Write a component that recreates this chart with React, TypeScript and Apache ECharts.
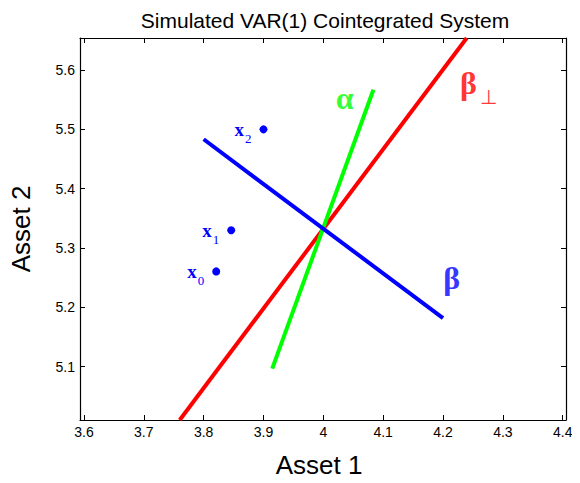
import React, { useEffect, useRef } from "react";
import * as echarts from "echarts";

const xTicks = [3.6, 3.7, 3.8, 3.9, 4.0, 4.1, 4.2, 4.3, 4.4];
const yTicks = [5.1, 5.2, 5.3, 5.4, 5.5, 5.6];
const xRange = [3.5934, 4.4055];
const yRange = [5.01, 5.654];

const betaPerpLine = [[3.76, 5.01], [4.2396, 5.654]];
const alphaLine = [[3.9146, 5.0967], [4.0837, 5.5667]];
const betaLine = [[3.8, 5.4833], [4.2, 5.1817]];

const statePoints = [[3.821, 5.2605], [3.846, 5.33], [3.9, 5.5]];
const stateNames = ["0", "1", "2"];

const greekLabels = [
  { name: "alpha", value: [4.0357, 5.553], text: "{g|α}" },
  { name: "betaPerp", value: [4.259, 5.578], text: "{r|β}{rs|⊥}" },
  { name: "beta", value: [4.2145, 5.25], text: "{b|β}" },
];

export default function App() {
  const ref = useRef<HTMLDivElement>(null);
  useEffect(() => {
    if (!ref.current) return;
    const chart = echarts.init(ref.current, null, { renderer: "svg" });
    const font = "Liberation Sans, Arial, sans-serif";
    const serif = "Liberation Serif, Times New Roman, serif";
    const axisLine = { show: true, lineStyle: { color: "#000", width: 1.2 } };
    const baseX = {
      type: "value",
      min: xRange[0],
      max: xRange[1],
      axisLine,
      splitLine: { show: false },
    };
    const baseY = {
      type: "value",
      min: yRange[0],
      max: yRange[1],
      axisLine,
      splitLine: { show: false },
    };
    chart.setOption({
      animation: false,
      backgroundColor: "#fff",
      title: {
        text: "Simulated VAR(1) Cointegrated System",
        left: 320,
        textAlign: "center",
        top: 5,
        textStyle: { fontFamily: font, fontWeight: "normal", fontSize: 21, color: "#000" },
      },
      grid: { left: 76, right: 14, top: 38, bottom: 59, containLabel: false },
      xAxis: [
        {
          ...baseX,
          position: "bottom",
          name: "Asset 1",
          nameLocation: "middle",
          nameGap: 32,
          nameTextStyle: { fontFamily: font, fontSize: 26, color: "#000", padding: [0, 8, 0, 0] },
          axisTick: { show: true, inside: true, length: 5, customValues: xTicks, lineStyle: { color: "#000" } },
          axisLabel: {
            customValues: xTicks,
            formatter: (v: number) => String(Math.round(v * 10) / 10),
            fontFamily: font,
            fontSize: 14,
            color: "#000",
            margin: 5,
          },
        },
        {
          ...baseX,
          position: "top",
          axisTick: { show: true, inside: true, length: 5, customValues: xTicks, lineStyle: { color: "#000" } },
          axisLabel: { show: false },
        },
      ],
      yAxis: [
        {
          ...baseY,
          position: "left",
          name: "Asset 2",
          nameLocation: "middle",
          nameGap: 46,
          nameRotate: 90,
          nameTextStyle: { fontFamily: font, fontSize: 26, color: "#000" },
          axisTick: { show: true, inside: true, length: 5, customValues: yTicks, lineStyle: { color: "#000" } },
          axisLabel: {
            customValues: yTicks,
            formatter: (v: number) => (Math.round(v * 10) / 10).toFixed(1),
            fontFamily: font,
            fontSize: 14,
            color: "#000",
            margin: 5,
          },
        },
        {
          ...baseY,
          position: "right",
          axisTick: { show: true, inside: true, length: 5, customValues: yTicks, lineStyle: { color: "#000" } },
          axisLabel: { show: false },
        },
      ],
      series: [
        {
          type: "line",
          data: betaPerpLine,
          symbol: "none",
          lineStyle: { color: "#ff0000", width: 4 },
          clip: true,
        },
        {
          type: "line",
          data: alphaLine,
          symbol: "none",
          lineStyle: { color: "#00ff00", width: 4 },
          clip: true,
        },
        {
          type: "line",
          data: betaLine,
          symbol: "none",
          lineStyle: { color: "#0000ff", width: 4 },
          clip: true,
        },
        {
          type: "scatter",
          data: statePoints.map((p, i) => ({ value: p, name: stateNames[i] })),
          symbol: "circle",
          symbolSize: 8,
          itemStyle: { color: "#0000ff", opacity: 1 },
          label: {
            show: true,
            position: "left",
            distance: 8,
            formatter: (p: any) => `{x|x}{s|${p.name}}`,
            rich: {
              x: { fontFamily: serif, fontWeight: "bold", fontSize: 19, color: "#0000ff", verticalAlign: "bottom" },
              s: { fontFamily: serif, fontSize: 13, color: "#0000ff", verticalAlign: "bottom", padding: [0, 0, -6, 1] },
            },
          },
        },
        {
          type: "scatter",
          data: greekLabels.map((g) => ({ name: g.name, value: g.value, label: { formatter: g.text } })),
          symbol: "circle",
          symbolSize: 1,
          itemStyle: { color: "rgba(0,0,0,0)" },
          label: {
            show: true,
            position: "inside",
            rich: {
              g: { fontFamily: serif, fontWeight: "bold", fontSize: 32, color: "#00ff00" },
              r: { fontFamily: serif, fontWeight: "bold", fontSize: 32, color: "#ff0000", verticalAlign: "bottom" },
              rs: { fontFamily: serif, fontSize: 20, color: "#ff0000", verticalAlign: "bottom", padding: [0, 0, -8, 3] },
              b: { fontFamily: serif, fontWeight: "bold", fontSize: 32, color: "#0000ff" },
            },
          },
        },
      ],
    } as any);
    return () => chart.dispose();
  }, []);
  return <div ref={ref} style={{ width: 580, height: 483, margin: -8 }} />;
}
